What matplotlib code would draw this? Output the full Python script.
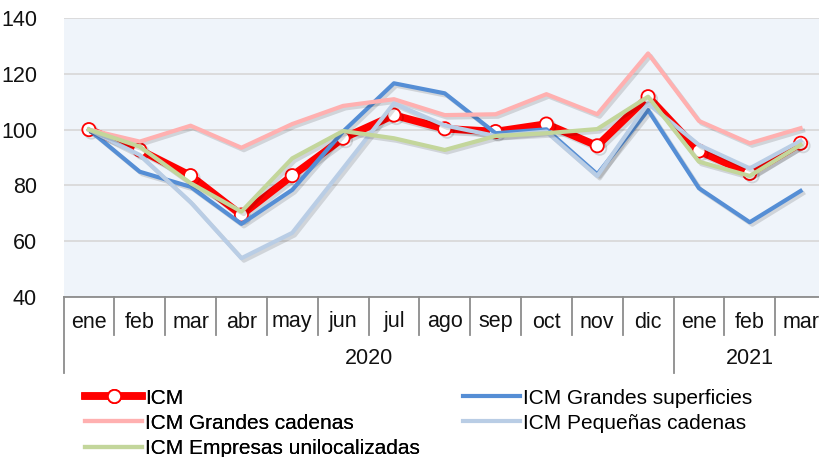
import matplotlib
matplotlib.use("Agg")
import matplotlib.pyplot as plt
import matplotlib.patheffects as pe

plt.rcParams['font.family'] = ['Liberation Sans', 'DejaVu Sans']

months = ['ene', 'feb', 'mar', 'abr', 'may', 'jun', 'jul', 'ago', 'sep', 'oct',
          'nov', 'dic', 'ene', 'feb', 'mar']
years = ['2020', '2021']
year_counts = [12, 3]

icm = [100, 92.7, 83.5, 69.4, 83.5, 96.9, 105.2, 100.3, 99.3, 102.0, 94.2, 111.8, 92.3, 84.3, 95.1]
grandes_sup = [100, 84.9, 79.5, 66.2, 78.4, 99.3, 116.6, 113.0, 98.7, 100.1, 84.0, 107.0, 79.0, 66.8, 78.0]
grandes_cad = [100, 95.7, 101.4, 93.5, 102.0, 108.5, 110.9, 105.2, 105.5, 112.7, 105.5, 127.3, 103.1, 95.1, 100.5]
pequenas_cad = [100, 90.9, 74.0, 53.9, 63.0, 86.1, 109.4, 101.5, 97.7, 99.3, 83.4, 109.4, 94.5, 86.1, 96.0]
unilocal = [100, 93.9, 80.8, 70.6, 89.7, 99.5, 96.9, 92.7, 97.7, 98.7, 100.2, 111.8, 88.5, 83.4, 94.5]

W, H = 819, 457
fig = plt.figure(figsize=(W / 100, H / 100), dpi=100)
left, right, top, bottom = 63.5, 826.0, 18.0, 297.0
ax = fig.add_axes([left / W, (H - bottom) / H, (right - left) / W, (bottom - top) / H])
ax.set_facecolor('#EFF4FA')

x = list(range(len(months)))
ax.set_xlim(-0.5, len(months) - 0.5)
ax.set_ylim(40, 140)
ax.set_yticks([40, 60, 80, 100, 120, 140])
ax.tick_params(axis='y', length=0, pad=19, labelsize=15.5, labelcolor='#111111')
ax.set_xticks([])
ax.grid(axis='y', color='#D9D9D9', lw=1.3)
ax.set_axisbelow(True)
for s in ['left', 'right', 'top']:
    ax.spines[s].set_visible(False)
ax.spines['bottom'].set_color('#8C8C8C')
ax.spines['bottom'].set_linewidth(1.3)

shadow = [pe.SimpleLineShadow(offset=(1.8, -1.8), shadow_color='black', alpha=0.13), pe.Normal()]

l_icm, = ax.plot(x, icm, color='#FF0000', lw=5.4, marker='o', ms=9.5,
                 mfc='white', mec='#FF0000', mew=1.3, zorder=3, path_effects=shadow,
                 label='ICM')
l_gs, = ax.plot(x, grandes_sup, color='#558ED5', lw=3, zorder=4, path_effects=shadow,
                label='ICM Grandes superficies')
l_gc, = ax.plot(x, grandes_cad, color='#FFB0B0', lw=3, zorder=4, path_effects=shadow,
                label='ICM Grandes cadenas')
l_pc, = ax.plot(x, pequenas_cad, color='#B9CDE5', lw=3, zorder=4, path_effects=shadow,
                label='ICM Pequeñas cadenas')
l_eu, = ax.plot(x, unilocal, color='#C3D69B', lw=3, zorder=4, path_effects=shadow,
                label='ICM Empresas unilocalizadas')

# category axis: month separators, labels, year groups
trans = ax.get_xaxis_transform()
ax_h = bottom - top
m_sep = -(335 - bottom) / ax_h
y_sep = -(373 - bottom) / ax_h
m_lab = -(322 - bottom) / ax_h
y_lab = -(358 - bottom) / ax_h

year_edges = [-0.5]
for c in year_counts:
    year_edges.append(year_edges[-1] + c)

for i in range(len(months) + 1):
    xs = i - 0.5
    ybot = y_sep if xs in year_edges else m_sep
    ax.plot([xs, xs], [0, ybot], transform=trans, color='#8C8C8C', lw=1.3, clip_on=False)

for i, m in enumerate(months):
    ax.text(i, m_lab, m, transform=trans, ha='center', va='center', fontsize=15.5, color='#111111')

for j, yr in enumerate(years):
    cx = (year_edges[j] + year_edges[j + 1]) / 2
    ax.text(cx, y_lab, yr, transform=trans, ha='center', va='center', fontsize=15.5, color='#111111')

leg_kw = dict(loc='upper left', frameon=False, fontsize=15, handlelength=2.75,
              handletextpad=0.15, labelspacing=0.3, borderpad=0, borderaxespad=0,
              numpoints=1)
leg1 = fig.legend(handles=[l_icm, l_gc, l_eu], bbox_to_anchor=(85 / W, 1 - 388.5 / H), **leg_kw)
leg2 = fig.legend(handles=[l_gs, l_pc], bbox_to_anchor=(463 / W, 1 - 388.5 / H), **leg_kw)
fig.add_artist(leg1)
for leg in (leg1, leg2):
    for h in leg.legend_handles:
        h.set_path_effects([])

fig.savefig('out.png', dpi=100)
